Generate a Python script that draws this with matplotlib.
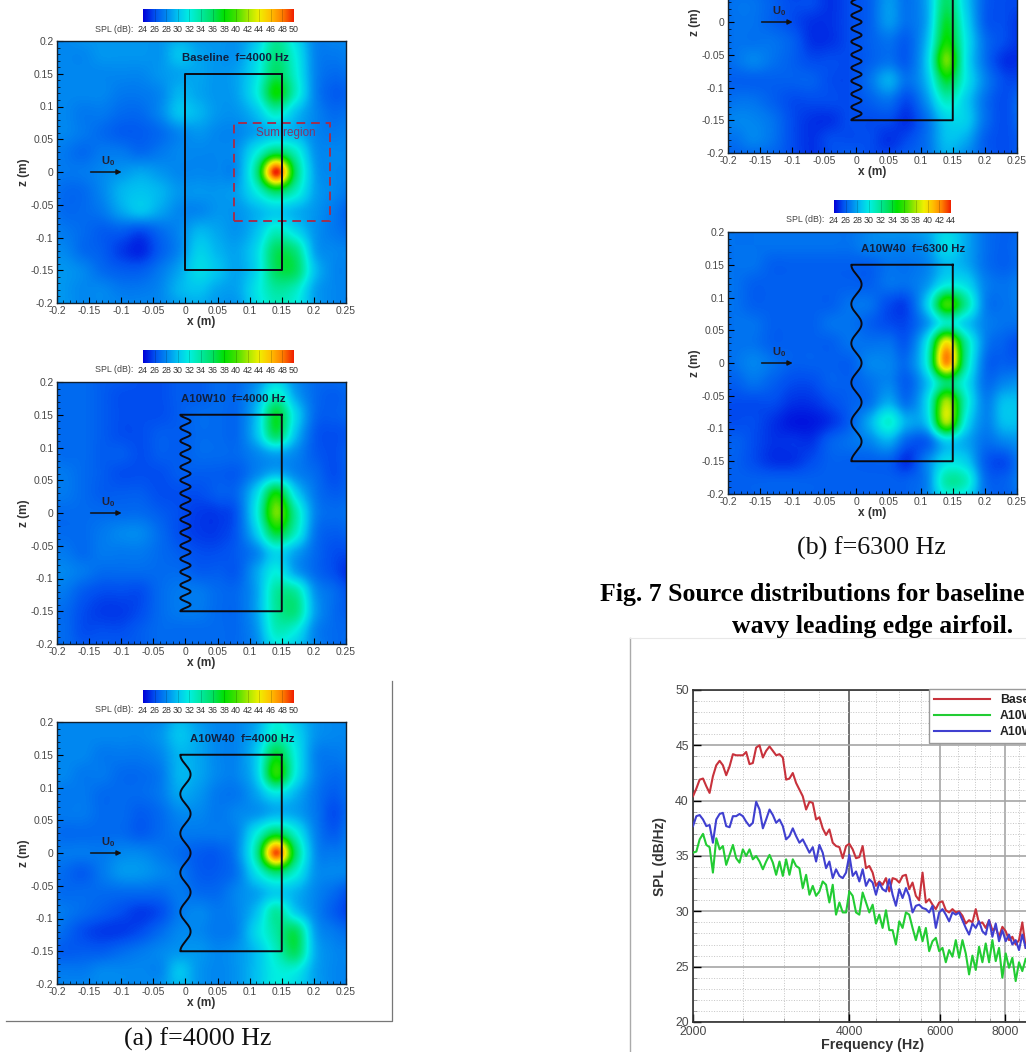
#!/usr/bin/env python3
"""Source maps (4000 Hz, 6300 Hz) and the integrated SPL spectra of Fig. 7."""

import matplotlib
matplotlib.use("Agg")
import matplotlib.pyplot as plt
from matplotlib.colors import LinearSegmentedColormap
from matplotlib.ticker import FixedLocator, FixedFormatter, MultipleLocator, NullFormatter
from matplotlib.patches import Rectangle
import numpy as np

W, H = 1026, 1052

plt.rcParams["font.family"] = ["Liberation Sans", "DejaVu Sans"]
plt.rcParams["mathtext.default"] = "regular"

# grid of the source maps, dB read at the nodes
X_NODES = [-.22, -.19, -.16, -.13, -.10, -.07, -.04, -.01, .02, .05, .08, .11, .14, .17, .20, .23, .26]
Z_NODES = [.21, .18, .15, .12, .09, .06, .03, 0, -.03, -.06, -.09, -.12, -.15, -.18, -.21]

BASELINE_4000 = [
    [28, 28, 28.5, 28.5, 28.5, 28.5, 28.5, 29, 28.5, 28.5, 28.5, 30, 34, 31, 28, 28, 28],
    [28, 28, 28, 28.5, 28.5, 28.5, 28.5, 30, 29, 28.5, 28.5, 31, 35, 32, 28, 27.5, 28],
    [28, 28, 28, 28, 28, 28, 28.5, 29, 29, 28.5, 29, 31.5, 36, 32.5, 28, 27, 27.5],
    [28, 28, 28, 28, 27.5, 27.5, 28, 29.5, 29, 28.5, 29, 32, 38, 33, 28, 26.5, 27],
    [28, 28, 27.5, 27.5, 27, 27, 28, 30, 29.5, 28.5, 28.5, 30, 33, 30, 28, 27, 27.5],
    [28, 28, 27.5, 27, 26.5, 26.5, 27, 28, 28.5, 28, 28, 29, 30, 29.5, 28, 27.5, 28],
    [28, 27.5, 27, 27.5, 27.5, 27, 27.5, 28, 28, 28, 28.5, 32, 36, 33, 28.5, 28, 28],
    [28, 27.5, 27.5, 28, 28.5, 29, 28.5, 28, 28, 28, 28.5, 35, 50, 36, 29, 28, 28],
    [28, 27, 27, 28, 29.5, 30, 29.5, 28.5, 28.5, 28.5, 29, 32, 36, 33, 29, 28, 27.5],
    [28, 27, 27, 27.5, 29, 30, 29, 28, 28, 28.5, 28.5, 29.5, 30.5, 29.5, 28.5, 27.5, 26.5],
    [28, 27.5, 27, 26.5, 26.5, 26, 27, 28, 29.5, 29, 28.5, 30, 33, 31, 28.5, 27.5, 27],
    [28, 28, 27, 26.5, 25.5, 25, 26.5, 28, 30.5, 29.5, 29, 31, 36, 35, 29, 28, 28],
    [28.5, 28.5, 28, 27, 26.5, 26.5, 27.5, 29, 31, 30, 29, 31, 36, 36, 30, 28, 28],
    [29, 28.5, 28, 28, 27.5, 27.5, 28, 29.5, 30, 29, 29, 31.5, 34, 33, 29, 28, 28],
    [28.5, 28.5, 28, 28, 28, 28, 28, 28.5, 29, 28.5, 28.5, 31, 33, 32, 29, 28, 28],
]

A10W10_4000 = [
    [27, 27, 27, 26.5, 26.5, 26, 26, 26.5, 26.5, 27, 27, 28, 30, 28, 27, 27, 27.5],
    [27, 27, 27, 26.5, 26, 26, 26, 26.5, 26.5, 27, 27, 29, 33, 29, 27, 26.5, 27],
    [27, 27, 27, 26.5, 26, 26, 26, 26.5, 27, 27, 27, 30, 37, 31, 27, 26.5, 27],
    [27, 27, 27, 26.5, 26, 26, 26.5, 26.5, 27, 27, 27, 30, 36, 30, 26.5, 26, 26.5],
    [27.5, 27, 27, 26.5, 26.5, 26, 26.5, 26.5, 27, 27, 27, 28, 29, 28, 26.5, 26, 27],
    [27.5, 27.5, 27, 26.5, 26, 26, 26, 26.5, 26.5, 26.5, 26.5, 28, 29.5, 28, 27, 26, 27],
    [27.5, 27.5, 27, 26.5, 26.5, 26.5, 26, 26, 26, 26.5, 27, 31, 38, 31, 27.5, 26.5, 27],
    [27, 27, 27, 27, 27, 27, 26.5, 26, 25.5, 25.5, 26.5, 32, 41, 34, 28, 27, 27.5],
    [27, 27, 27, 27.5, 28, 28, 27, 26, 25.5, 25.5, 26.5, 30.5, 37, 33, 27.5, 26.5, 27],
    [27.5, 27.5, 27, 27.5, 27.5, 27.5, 27, 26.5, 26, 26, 26.5, 28, 31, 29, 27, 26, 26],
    [28, 28, 27.5, 27, 27, 27, 27, 27, 26.5, 26.5, 26.5, 29, 32, 29, 27, 26, 25],
    [27.5, 27.5, 26.5, 26, 26, 26, 27, 27.5, 27.5, 27, 27, 29, 34, 34, 28.5, 27, 26],
    [27, 27, 26, 25.5, 25.5, 26, 27, 27.5, 27.5, 27, 27, 29, 34, 35, 29, 27, 26.5],
    [27, 27, 26, 26, 26, 26.5, 27, 27, 27, 27, 27, 28.5, 33, 32, 28, 27, 27],
    [27, 27, 26.5, 26.5, 26.5, 26.5, 27, 27, 27, 27, 27, 28, 31, 30, 28, 27, 27],
]

A10W40_4000 = [
    [28, 28, 28, 28, 28, 28, 28, 29.5, 28.5, 28, 28, 29, 32, 30, 28.5, 28, 28],
    [28, 28, 28, 28, 28, 28, 28.5, 30, 29, 28, 28, 29.5, 33, 31, 28.5, 28, 28],
    [28, 28, 28, 27.5, 27.5, 27.5, 28, 29.5, 29, 28, 28, 30.5, 37, 32, 28, 27.5, 28],
    [28, 28, 27.5, 27.5, 27, 27, 27.5, 29.5, 29, 28, 28, 30.5, 39, 32, 28, 27, 27.5],
    [28, 27.5, 27.5, 27, 27, 27, 27.5, 29, 28.5, 27.5, 27.5, 29, 31.5, 29.5, 27.5, 26.5, 27.5],
    [27.5, 27.5, 27.5, 27, 27, 26.5, 27, 28, 28, 27.5, 28, 28.5, 29.5, 29, 27.5, 26, 27.5],
    [27.5, 27, 27, 27, 27, 26.5, 27, 27.5, 27.5, 27.5, 28, 32, 36.5, 32.5, 28, 26.5, 28],
    [27.5, 27.5, 27.5, 27.5, 28, 28, 27.5, 27, 26.5, 26.5, 28, 34.5, 49, 36, 28.5, 27.5, 28],
    [27.5, 27, 26.5, 27.5, 28.5, 28.5, 28, 27.5, 26.5, 26.5, 27.5, 31.5, 35.5, 32.5, 28.5, 28, 28],
    [27.5, 27, 27, 27, 27, 27, 27, 27.5, 27, 27, 28, 29, 30.5, 29.5, 28, 27, 26],
    [28, 27.5, 27, 26.5, 26, 25.5, 26, 27.5, 28, 27.5, 28, 30, 34, 30.5, 28, 26.5, 25.5],
    [28, 27, 26, 25.5, 25.5, 26, 27, 28, 28, 27.5, 28, 31, 34, 36, 29, 27.5, 27],
    [27, 26.5, 26.5, 26.5, 27, 27.5, 28, 28.5, 28.5, 28, 28.5, 30, 33, 36, 29.5, 28, 28],
    [27.5, 27.5, 27.5, 28, 28, 28, 28, 30, 28.5, 28, 28.5, 30, 32, 32, 29, 28, 28],
    [28, 28, 28, 28, 28, 28, 28.5, 29.5, 28.5, 28, 28.5, 30, 32, 31, 29, 28, 28],
]

# only the lower rows of this map are on the page (z <= 0.06)
A10W10_6300 = [
    [26, 26, 26, 25.5, 25, 25, 25, 25.5, 26, 27, 26.5, 28, 33, 29, 26, 25.5, 25.5],
    [26, 26.5, 26.5, 26, 25.5, 25.5, 25, 25.5, 26, 27.5, 26.5, 28, 33, 29, 26, 25.5, 25.5],
    [26, 26.5, 26.5, 26, 25.5, 25, 25, 25.5, 26, 27.5, 26.5, 28, 34, 29.5, 26, 25.5, 25],
    [26, 26.5, 26.5, 26.5, 26, 25, 25, 25.5, 26, 26.5, 26, 28.5, 35, 30, 26.5, 25.5, 25],
    [26, 26.5, 27, 26.5, 26, 25.5, 25.5, 25.5, 26, 26.5, 26, 29, 37, 30, 26.5, 25, 25],
    [26, 26, 26, 26, 26, 26, 25.5, 25.5, 26.5, 28, 26.5, 28.5, 34, 30, 27, 25.5, 25.5],
    [26, 26.5, 26.5, 26, 25.5, 25.5, 25.5, 25.5, 26, 26.5, 25.5, 27.5, 31, 29, 26.5, 25.5, 26.5],
    [26.5, 27, 27, 26.5, 25.5, 25, 25, 25.5, 25.5, 25.5, 25, 26.5, 29, 29, 26.5, 25.5, 26.5],
    [26.5, 26.5, 27, 26.5, 25.5, 25, 25.5, 25.5, 25.5, 25, 25.5, 26.5, 28.5, 28, 26, 25.5, 26],
    [26, 26, 26, 26, 25.5, 25, 25.5, 26, 25.5, 25.5, 26, 26.5, 28, 27, 26, 25.5, 26],
]

A10W40_6300 = [
    [26.5, 26.5, 26.5, 26.5, 26.5, 26.5, 26.5, 26.5, 27, 27.5, 27.5, 28, 29, 28, 26.5, 26, 26],
    [26.5, 26.5, 26.5, 26.5, 26.5, 26.5, 26.5, 26.5, 27, 27, 27, 27.5, 29.5, 28, 26.5, 26, 26.5],
    [26.5, 26.5, 26.5, 26, 26, 26, 26, 26, 26, 26.5, 26.5, 27, 28.5, 28, 26.5, 26, 26.5],
    [26.5, 26.5, 26, 26, 26, 26, 26, 26, 26, 26.5, 26.5, 27.5, 30, 29.5, 27, 26.5, 27],
    [26.5, 26.5, 26, 26, 26, 26, 26, 26.5, 26.5, 25.5, 25.5, 29, 36, 32, 27, 26.5, 27],
    [26, 26.5, 26.5, 26, 26, 26, 26.5, 26.5, 26, 25.5, 25.5, 27.5, 31, 29, 27, 26.5, 26.5],
    [26.5, 26.5, 26.5, 26, 26, 26, 26, 26.5, 26.5, 26.5, 26, 30, 40, 32, 27, 26, 25.5],
    [26, 26.5, 27, 26.5, 26, 26, 26, 26, 27, 27, 26.5, 30.5, 42, 32, 26.5, 26, 26],
    [26, 26, 26.5, 26, 25.5, 25.5, 26, 26, 26.5, 27, 26, 28.5, 33, 30, 26.5, 27, 27.5],
    [25.5, 25.5, 25.5, 25.5, 25, 25, 25.5, 26, 26.5, 28, 26.5, 29.5, 38, 31, 27, 28.5, 28.5],
    [25.5, 25.5, 25.5, 25, 24.5, 24.5, 25, 26, 28, 30.5, 28, 29, 38, 30, 27, 28.5, 28.5],
    [25.5, 26, 25.5, 25, 25, 25, 26, 26.5, 27, 28, 26, 26, 29, 28, 26.5, 27, 27.5],
    [26, 26, 25.5, 25, 25, 25.5, 26, 26, 26, 26, 25, 27, 29.5, 29, 26, 25.5, 27],
    [26, 26, 26, 26, 26, 26, 26, 26, 26, 26, 26, 27, 31.5, 31, 26.5, 26, 27],
    [26, 26, 26, 26, 26, 26, 26, 26, 26, 26, 26, 27, 29.5, 29, 26.5, 26, 26.5],
]

SPL_COLORS = ["#0000d8", "#0050f0", "#0088f0", "#00c4f0", "#00f0e0", "#00e8a0", "#00e060",
              "#00e000", "#40e000", "#a0e800", "#f0f000", "#ffc000", "#ff8000", "#f02000"]

FREQ = [2000, 2030, 2060, 2091, 2122, 2153, 2185, 2218, 2251, 2284, 2318, 2353, 2388, 2423, 2459, 2496, 2533,
        2571, 2609, 2648, 2688, 2728, 2768, 2810, 2852, 2894, 2937, 2981, 3025, 3070, 3116, 3162, 3209, 3257,
        3306, 3355, 3405, 3456, 3507, 3559, 3612, 3666, 3721, 3776, 3833, 3890, 3948, 4006, 4066, 4127, 4188,
        4250, 4314, 4378, 4443, 4509, 4576, 4644, 4714, 4784, 4855, 4927, 5001, 5075, 5151, 5227, 5305, 5384,
        5464, 5546, 5628, 5712, 5797, 5883, 5971, 6060, 6150, 6241, 6334, 6429, 6524, 6622, 6720, 6820, 6922,
        7025, 7129, 7236, 7343, 7453, 7564, 7677, 7791, 7907, 8025, 8144, 8266, 8389, 8514, 8640, 8769]

SPL_BASELINE = [40.4, 41.1, 41.9, 42.0, 41.3, 40.7, 42.2, 43.2, 43.6, 43.2, 42.3, 43.1, 44.2, 44.1, 44.1, 44.1, 44.4,
                43.3, 43.4, 44.8, 45.0, 43.9, 44.5, 44.9, 44.5, 44.1, 44.2, 43.9, 41.9, 42.0, 42.5, 41.6, 41.0, 40.4,
                39.2, 39.9, 39.8, 38.3, 38.5, 37.5, 36.9, 37.4, 36.2, 35.9, 35.8, 34.8, 35.9, 36.1, 35.6, 34.8, 34.9,
                35.9, 33.9, 34.1, 33.5, 32.3, 32.7, 32.4, 33.0, 31.8, 33.0, 32.9, 32.6, 33.2, 33.3, 32.0, 32.6, 31.4,
                31.0, 33.5, 30.8, 31.1, 30.6, 30.2, 30.8, 30.9, 30.1, 29.9, 30.2, 29.9, 30.0, 29.6, 28.9, 29.2, 29.0,
                30.2, 28.9, 29.0, 28.5, 29.2, 28.3, 28.5, 27.7, 28.6, 28.2, 27.4, 27.7, 27.0, 27.4, 29.0, 26.7]

SPL_A10W10 = [35.3, 35.4, 36.5, 37.0, 36.0, 35.8, 33.5, 36.6, 35.6, 35.9, 34.2, 35.1, 36.0, 34.8, 34.4, 35.6, 35.0,
              35.6, 34.7, 35.0, 34.5, 33.8, 34.5, 35.1, 34.4, 33.3, 34.5, 33.2, 34.7, 33.3, 34.7, 34.1, 33.9, 32.1,
              33.3, 31.5, 32.3, 31.4, 31.8, 32.7, 32.4, 30.8, 32.4, 29.7, 30.8, 29.9, 29.9, 31.8, 31.4, 29.9, 29.7,
              31.7, 30.8, 29.9, 30.6, 28.9, 29.7, 28.5, 30.1, 28.3, 28.3, 27.0, 29.1, 28.5, 29.9, 29.7, 28.5, 27.4,
              28.6, 27.3, 28.5, 26.4, 27.3, 27.6, 26.4, 26.7, 25.4, 26.5, 25.9, 27.4, 25.8, 27.4, 26.2, 24.3, 26.0,
              24.7, 26.8, 25.4, 27.1, 25.4, 27.4, 25.5, 26.7, 24.0, 26.2, 24.9, 25.8, 23.7, 25.4, 24.6, 25.7]

SPL_A10W40 = [37.7, 38.6, 38.7, 38.3, 37.7, 37.8, 36.2, 38.3, 38.8, 38.9, 37.7, 37.6, 38.6, 38.6, 38.8, 38.6, 38.1,
              37.7, 38.0, 39.9, 39.2, 37.5, 38.3, 39.2, 38.7, 38.0, 38.3, 37.7, 36.5, 36.8, 37.5, 36.8, 36.2, 36.5,
              35.9, 35.3, 35.8, 34.5, 36.0, 35.3, 33.9, 34.5, 33.0, 33.8, 33.2, 33.0, 33.5, 35.1, 33.2, 33.6, 32.7,
              33.8, 32.3, 32.9, 32.6, 31.5, 32.6, 32.0, 31.8, 32.9, 31.5, 30.5, 32.0, 31.2, 32.1, 31.4, 29.9, 30.5,
              30.6, 30.3, 30.2, 29.9, 30.5, 28.5, 29.9, 30.2, 29.7, 29.1, 29.9, 29.7, 29.9, 29.2, 28.5, 27.9, 28.9,
              28.5, 29.1, 28.2, 27.9, 29.2, 27.7, 28.9, 27.3, 28.3, 27.3, 27.9, 27.0, 27.4, 26.5, 27.9, 26.7]

MAP_TICKS_X = [-.2, -.15, -.1, -.05, 0, .05, .1, .15, .2, .25]
MAP_TICKS_Z = [-.2, -.15, -.1, -.05, 0, .05, .1, .15, .2]
MAP_LABELS_X = ["-0.2", "-0.15", "-0.1", "-0.05", "0", "0.05", "0.1", "0.15", "0.2", "0.25"]
MAP_LABELS_Z = ["-0.2", "-0.15", "-0.1", "-0.05", "0", "0.05", "0.1", "0.15", "0.2"]
TICK_GREY = "#484848"


def px_axes(fig, left, top, right, bottom):
    """Axes placed by pixel box, y measured from the top of the page."""
    return fig.add_axes([left / W, 1 - bottom / H, (right - left) / W, (bottom - top) / H])


def draw_scale(fig, cmap, left, right, top, vmax):
    ax = px_axes(fig, left, top, right, top + 13)
    levels = np.arange(24, vmax + 1, 2)
    ax.imshow([np.linspace(24, vmax, 256)], cmap=cmap, vmin=24, vmax=vmax, aspect="auto",
              extent=(24, vmax, 0, 1), interpolation="bilinear")
    ax.vlines(levels[1:-1], 0, 1, color="k", alpha=0.2, lw=0.6)
    ax.set_yticks([])
    ax.set_xticks(levels)
    ax.set_xticklabels([str(v) for v in levels], fontsize=6.4, color="#333333")
    ax.tick_params(axis="x", length=0, pad=2)
    for s in ax.spines.values():
        s.set_visible(False)
    fig.text((left - 10) / W, 1 - (top + 20) / H, "SPL (dB):", fontsize=6.4, color="#444444",
             ha="right", va="center")


def draw_map(fig, field, vmax, box, scale_left, scale_right, title=None, title_x=0.08, wave=None, scale=True):
    left, top = box
    ax = px_axes(fig, left, top, left + 289, top + 262)
    cmap = LinearSegmentedColormap.from_list("spl", SPL_COLORS)
    rows = np.array(field)
    zs = Z_NODES[-len(rows):]
    dx, dz = 0.015, 0.015
    ax.imshow(rows, cmap=cmap, vmin=24, vmax=vmax, aspect="auto", interpolation="catrom",
              extent=(X_NODES[0] - dx, X_NODES[-1] + dx, zs[-1] - dz, zs[0] + dz), origin="upper")
    ax.set_xlim(-0.2, 0.25)
    ax.set_ylim(-0.2, 0.2)

    # planform outline, leading edge runs upward last
    z = np.linspace(-0.15, 0.15, 800)
    xs = np.zeros_like(z) if wave is None else 0.008 * np.cos(2 * np.pi * z / wave)
    outline_x = np.r_[0.15, 0.15, xs, 0.15]
    outline_z = np.r_[0.15, -0.15, z, 0.15]
    ax.plot(outline_x, outline_z, color="#0a0a14", lw=1.4, solid_joinstyle="round")

    ax.annotate("", xy=(-0.095, 0), xytext=(-0.152, 0), arrowprops=dict(arrowstyle="-|>", color="#111111", lw=1.1, mutation_scale=7))
    ax.text(-0.12, 0.016, "U$_0$", fontsize=8, fontweight="bold", color="#222233", ha="center", va="center")
    if title:
        ax.text(title_x, 0.174, title, fontsize=8.2, fontweight="bold", color="#102040", ha="center", va="center")

    ax.xaxis.set_major_locator(FixedLocator(MAP_TICKS_X))
    ax.xaxis.set_major_formatter(FixedFormatter(MAP_LABELS_X))
    ax.yaxis.set_major_locator(FixedLocator(MAP_TICKS_Z))
    ax.yaxis.set_major_formatter(FixedFormatter(MAP_LABELS_Z))
    ax.xaxis.set_minor_locator(MultipleLocator(0.01))
    ax.yaxis.set_minor_locator(MultipleLocator(0.01))
    ax.tick_params(which="major", direction="in", length=4, width=0.8, labelsize=7.4, labelcolor=TICK_GREY, pad=2.5)
    ax.tick_params(which="minor", direction="in", length=2, width=0.5)
    ax.set_xlabel("x (m)", fontsize=8.6, fontweight="bold", color="#333333", labelpad=0)
    ax.set_ylabel("z (m)", fontsize=8.6, fontweight="bold", color="#333333", labelpad=0)
    for s in ax.spines.values():
        s.set_color("#102030")
        s.set_linewidth(1.0)
    if scale:
        draw_scale(fig, cmap, scale_left, scale_right, top - 32, vmax)
    return ax


def draw_spectra(fig):
    octave = 156.0
    right = 693 + octave * np.log2(5)
    ax = px_axes(fig, 693, 690, right, 1022)
    ax.plot(FREQ, SPL_BASELINE, color="#c8323c", lw=1.5, label="Baseline", zorder=3)
    ax.plot(FREQ, SPL_A10W10, color="#22cc33", lw=1.5, label="A10W10", zorder=3)
    ax.plot(FREQ, SPL_A10W40, color="#4040d0", lw=1.5, label="A10W40", zorder=4)
    ax.set_xscale("log")
    ax.set_xlim(2000, 10000)
    ax.set_ylim(20, 50)
    ax.xaxis.set_major_locator(FixedLocator([2000, 4000, 6000, 8000]))
    ax.xaxis.set_major_formatter(FixedFormatter(["2000", "4000", "6000", "8000"]))
    ax.xaxis.set_minor_locator(FixedLocator([2500, 3000, 3500, 4500, 5000, 5500, 6500, 7000, 7500, 8500, 9000, 9500]))
    ax.xaxis.set_minor_formatter(NullFormatter())
    ax.yaxis.set_major_locator(MultipleLocator(5))
    ax.yaxis.set_minor_locator(MultipleLocator(1))
    ax.grid(True, which="minor", color="#c4c4c4", lw=0.7, ls=":")
    ax.grid(True, which="major", color="#a6a6a6", lw=1.2)
    ax.get_xgridlines()[1].set_color("#5a5a5a")
    ax.set_axisbelow(True)
    ax.tick_params(which="major", direction="in", length=6, width=1.0, labelsize=8.8, labelcolor=TICK_GREY, pad=3)
    ax.tick_params(which="minor", direction="in", length=3, width=0.5, color="#888888")
    ax.set_xlabel("Frequency (Hz)", fontsize=10.3, fontweight="bold", color="#333333", labelpad=0)
    ax.xaxis.set_label_coords((873 - 693) / (right - 693), -0.048)
    ax.set_ylabel("SPL (dB/Hz)", fontsize=10, fontweight="bold", color="#333333", labelpad=6)
    for s in ax.spines.values():
        s.set_color("#303030")
        s.set_linewidth(1.2)
    leg = ax.legend(loc="upper left", bbox_to_anchor=((929 - 693) / (right - 693), 1.002), fancybox=False,
                    shadow=False, framealpha=1, edgecolor="#9a9a9a", borderaxespad=0,
                    prop={"weight": "bold", "size": 8.8}, handlelength=4.6, handletextpad=0.8,
                    labelspacing=0.3, borderpad=0.42)
    leg.get_frame().set_linewidth(1.0)
    for t in leg.get_texts():
        t.set_color("#222222")


def main():
    fig = plt.figure(figsize=(W / 100, H / 100), dpi=100, facecolor="white")

    ax = draw_map(fig, BASELINE_4000, 50, (57, 41), 143, 294, "Baseline  f=4000 Hz", 0.078)
    ax.add_patch(Rectangle((0.075, -0.075), 0.15, 0.15, fill=False, ec="#a03050", lw=1.4, ls=(0, (4.5, 3))))
    ax.text(0.156, 0.06, "Sum region", fontsize=8.4, color="#803868", ha="center", va="center")

    draw_map(fig, A10W10_4000, 50, (57, 382), 143, 294, "A10W10  f=4000 Hz", 0.075, wave=0.02)
    draw_map(fig, A10W40_4000, 50, (57, 722), 143, 294, "A10W40  f=4000 Hz", 0.088, wave=0.06)
    draw_map(fig, A10W10_6300, 44, (728, -109), 834, 951, wave=0.02, scale=False)
    draw_map(fig, A10W40_6300, 44, (728, 232), 834, 951, "A10W40  f=6300 Hz", 0.0886, wave=0.06)
    draw_spectra(fig)

    # page furniture around the pasted figures
    fig.add_artist(plt.Line2D([6 / W, 392 / W, 392 / W], [1 - 1021 / H, 1 - 1021 / H, 1 - 681 / H], color="#777777", lw=0.9))
    fig.add_artist(plt.Line2D([630 / W, 630 / W], [1 - 638 / H, 0], color="#aaaaaa", lw=1.0))
    fig.add_artist(plt.Line2D([630 / W, 1], [1 - 638 / H, 1 - 638 / H], color="#e8e8e8", lw=0.8))

    serif = ["Liberation Serif", "DejaVu Serif"]
    fig.text(198 / W, 1 - 1039 / H, "(a) f=4000 Hz", family=serif, fontsize=18.7, ha="center", va="center", color="#111111")
    fig.text(871 / W, 1 - 548 / H, "(b) f=6300 Hz", family=serif, fontsize=18.7, ha="center", va="center", color="#111111")
    fig.text(600 / W, 1 - 594 / H, "Fig. 7 Source distributions for baseline", family=serif, fontsize=18.5,
             fontweight="bold", ha="left", va="center", color="black")
    fig.text(873 / W, 1 - 626 / H, "wavy leading edge airfoil.", family=serif, fontsize=18.5,
             fontweight="bold", ha="center", va="center", color="black")

    fig.savefig("out.png", dpi=100, facecolor="white")
    plt.close(fig)


if __name__ == "__main__":
    main()
